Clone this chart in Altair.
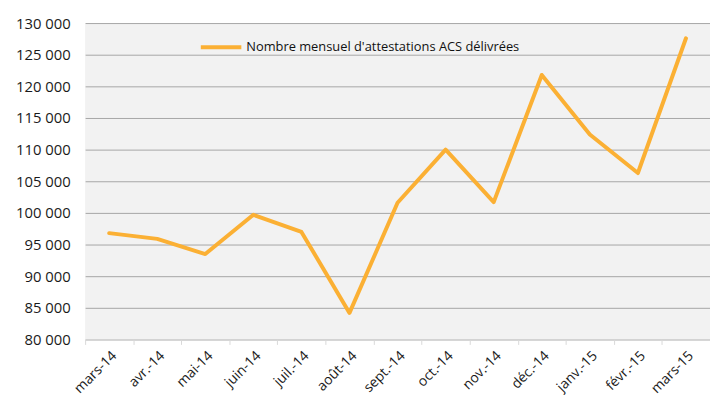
import altair as alt
import pandas as pd

months = ["mars-14", "avr.-14", "mai-14", "juin-14", "juil.-14", "août-14", "sept.-14",
          "oct.-14", "nov.-14", "déc.-14", "janv.-15", "févr.-15", "mars-15"]
values = [96800, 95900, 93500, 99700, 97000, 84200, 101600,
          110000, 101700, 121800, 112400, 106300, 127600]
series_name = "Nombre mensuel d'attestations ACS délivrées"

df = pd.DataFrame({"mois": months, "valeur": values, "serie": [series_name] * len(months)})

FONT = "Open Sans"

chart = alt.Chart(df).mark_line(strokeWidth=4, strokeCap="round", strokeJoin="round").encode(
    x=alt.X("mois:N", sort=None, title=None,
            scale=alt.Scale(type="band", paddingInner=0, paddingOuter=0),
            axis=alt.Axis(labelAngle=-45, tickBand="extent", grid=False,
                          domainColor="#d9d9d9", tickColor="#d9d9d9", tickSize=5,
                          labelFont=FONT, labelFontSize=14, labelColor="#1a1a1a",
                          labelPadding=4)),
    y=alt.Y("valeur:Q", title=None,
            scale=alt.Scale(domain=[80000, 130000], nice=False, zero=False),
            axis=alt.Axis(values=list(range(80000, 130001, 5000)),
                          labelExpr="format(datum.value/1000, 'd') + ' 000'",
                          domain=False, ticks=False, grid=True,
                          gridColor="#a6a6a6", gridWidth=1,
                          labelFont=FONT, labelFontSize=15, labelColor="#1a1a1a",
                          labelPadding=15)),
    color=alt.Color("serie:N", title=None,
                    scale=alt.Scale(range=["#FBB034"]),
                    legend=alt.Legend(orient="none", legendX=115, legendY=2,
                                      symbolType="stroke", symbolSize=1681,
                                      symbolStrokeWidth=4, symbolStrokeColor="#FBB034",
                                      labelFont=FONT, labelFontSize=13, labelColor="#111111",
                                      labelOffset=3, padding=0, labelLimit=400)),
).properties(
    width=632, height=320,
    autosize=alt.AutoSizeParams(type="none"),
    padding={"left": 78, "top": 13, "right": 0, "bottom": 60},
).configure_view(fill="#f2f2f2", stroke=None)

chart.save("out.html", embed_options={"renderer": "svg", "actions": False})
